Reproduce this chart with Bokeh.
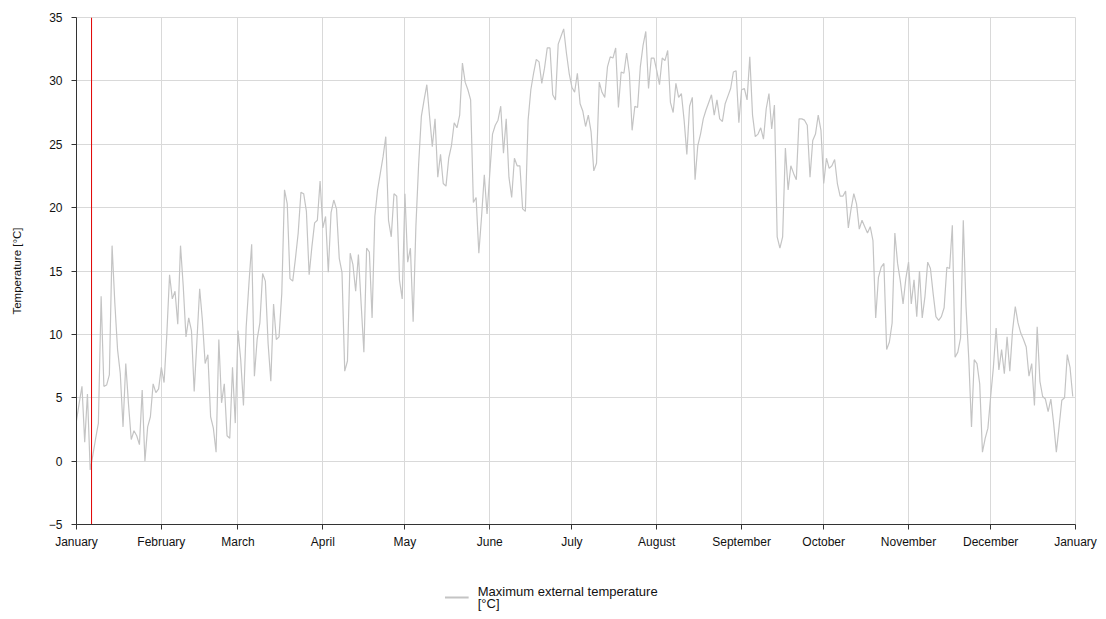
from bokeh.plotting import figure
from bokeh.layouts import column
from bokeh.models import Range1d, FixedTicker, Label
from bokeh.embed import file_html
from bokeh.resources import INLINE

# Daily maximum external temperature [°C], day 0 = 1 January
temps = [
    3.2, 4.6, 5.9, 1.5, 5.3, -0.7, 0.5, 1.8, 3.0, 13.0,
    5.9, 6.0, 6.8, 17.0, 12.5, 8.8, 6.9, 2.7, 7.7, 4.5,
    1.7, 2.4, 2.0, 1.3, 5.6, 0.0, 2.7, 3.5, 6.1, 5.4,
    5.7, 7.4, 6.2, 10.0, 14.7, 12.8, 13.4, 10.8, 17.0, 13.8,
    9.8, 11.3, 10.3, 5.5, 9.5, 13.6, 11.1, 7.7, 8.4, 3.5,
    2.6, 0.7, 9.6, 4.6, 6.1, 2.0, 1.8, 7.4, 3.0, 10.3,
    8.0, 4.4, 10.6, 14.0, 17.1, 6.7, 9.6, 10.9, 14.8, 14.2,
    9.3, 6.3, 12.4, 9.6, 9.8, 13.2, 21.4, 20.3, 14.4, 14.2,
    16.0, 18.0, 21.2, 21.1, 19.7, 14.7, 16.9, 18.8, 19.0, 22.1,
    18.4, 19.3, 14.9, 19.6, 20.6, 19.9, 16.0, 14.9, 7.1, 7.9,
    16.4, 15.5, 13.4, 16.3, 12.4, 8.6, 16.8, 16.5, 11.3, 19.3,
    21.4, 22.7, 24.0, 25.6, 19.0, 17.7, 21.1, 20.9, 14.3, 12.8,
    21.1, 15.7, 16.8, 11.0, 18.5, 23.4, 27.2, 28.5, 29.7, 27.2,
    24.8, 27.0, 22.4, 24.2, 21.9, 21.7, 23.9, 24.9, 26.7, 26.3,
    27.3, 31.4, 29.9, 29.3, 28.5, 20.4, 20.8, 16.4, 19.3, 22.6,
    19.5, 22.7, 25.8, 26.5, 26.9, 28.0, 24.3, 27.0, 22.4, 20.8,
    23.9, 23.3, 23.3, 19.9, 19.7, 26.9, 29.3, 30.6, 31.7, 31.5,
    29.8, 31.0, 32.6, 32.6, 28.9, 28.5, 32.9, 33.5, 34.1, 32.2,
    30.6, 29.5, 29.1, 30.6, 28.2, 27.6, 26.4, 27.3, 26.0, 22.9,
    23.5, 29.9, 29.1, 28.7, 31.1, 31.9, 31.8, 32.6, 27.9, 30.7,
    30.6, 32.2, 30.6, 26.1, 28.0, 27.9, 31.1, 32.8, 33.9, 29.4,
    31.8, 31.8, 30.8, 29.7, 31.8, 31.6, 32.4, 28.3, 27.5, 29.8,
    28.7, 29.0, 26.9, 24.2, 28.0, 28.7, 22.2, 24.9, 25.8, 27.0,
    27.7, 28.3, 28.9, 27.3, 28.5, 27.0, 26.8, 28.2, 28.8, 29.4,
    30.7, 30.8, 26.7, 29.3, 29.4, 28.5, 31.9, 27.3, 25.6, 25.8,
    26.3, 25.4, 27.8, 29.0, 26.2, 28.1, 17.7, 16.8, 17.7, 24.7,
    21.4, 23.3, 22.7, 22.2, 27.0, 27.0, 26.9, 26.5, 22.4, 25.3,
    25.8, 27.3, 26.1, 21.9, 23.9, 23.1, 23.3, 23.8, 21.9, 20.9,
    20.9, 21.3, 18.4, 19.9, 21.1, 20.3, 18.3, 19.0, 18.5, 18.0,
    18.5, 17.4, 11.3, 14.5, 15.3, 15.6, 8.8, 9.4, 10.9, 18.0,
    15.6, 14.2, 12.4, 14.4, 15.7, 12.4, 14.3, 11.4, 15.0, 11.3,
    13.0, 15.7, 15.2, 13.2, 11.4, 11.1, 11.4, 12.1, 15.3, 15.2,
    18.6, 8.2, 8.6, 9.7, 19.0, 12.2, 8.1, 2.7, 8.0, 7.7,
    6.1, 0.7, 1.8, 2.6, 5.1, 7.4, 10.5, 7.2, 8.8, 6.9,
    9.8, 7.1, 10.3, 12.2, 10.9, 10.1, 9.6, 9.0, 6.7, 7.7,
    4.4, 10.6, 6.3, 5.1, 4.9, 3.9, 4.9, 3.0, 0.7, 2.7,
    4.8, 5.0, 8.4, 7.4, 5.1,
]
days = list(range(len(temps)))

month_starts = [0, 31, 59, 90, 120, 151, 181, 212, 243, 273, 304, 334, 365]
month_labels = ["January", "February", "March", "April", "May", "June", "July",
                "August", "September", "October", "November", "December", "January"]
y_ticks = [-5, 0, 5, 10, 15, 20, 25, 30, 35]
marker_day = 5.5
legend_line1 = "Maximum external temperature"
legend_line2 = "[°C]"

FONT = "Liberation Sans"
LINE_COLOR = "#c4c4c4"
W = 1098
Y_MIN, Y_MAX = y_ticks[0], y_ticks[-1]

p = figure(width=W, height=560, x_range=Range1d(0, 365), y_range=Range1d(Y_MIN, Y_MAX),
           output_backend="svg", toolbar_location=None,
           min_border_left=76, min_border_right=23, min_border_top=17, min_border_bottom=36)
p.background_fill_color = "white"
p.border_fill_color = "white"
p.outline_line_color = "#d9d9d9"

r = p.line(days, temps, line_color=LINE_COLOR, line_width=1.2)

# current-day marker
p.segment(x0=[marker_day], x1=[marker_day], y0=[Y_MIN], y1=[Y_MAX],
          line_color="#e00000", line_width=1)

p.xaxis.ticker = FixedTicker(ticks=month_starts)
p.xaxis.major_label_overrides = {m: l for m, l in zip(month_starts, month_labels)}
p.yaxis.ticker = FixedTicker(ticks=y_ticks)
for ax in (p.xaxis, p.yaxis):
    ax.axis_line_color = "#333333"
    ax.major_tick_line_color = "#333333"
    ax.major_tick_out = 5
    ax.major_tick_in = 0
    ax.minor_tick_line_color = None
    ax.major_label_text_font = FONT
    ax.major_label_text_font_size = "12px"
    ax.major_label_text_color = "#111111"
p.xaxis.major_label_standoff = 5
p.yaxis.major_label_standoff = 9
p.yaxis.axis_label = "Temperature [°C]"
p.yaxis.axis_label_text_font = FONT
p.yaxis.axis_label_text_font_size = "11.5px"
p.yaxis.axis_label_text_font_style = "normal"
p.yaxis.axis_label_text_color = "#111111"
p.yaxis.axis_label_standoff = 23

p.xgrid.ticker = FixedTicker(ticks=month_starts)
p.ygrid.ticker = FixedTicker(ticks=y_ticks)
p.grid.grid_line_color = "#d9d9d9"
p.grid.grid_line_width = 1

# Legend strip below the chart (pixel coordinates of the strip)
LH = 51
lf = figure(width=W, height=LH, x_range=Range1d(0, W), y_range=Range1d(0, LH),
            output_backend="svg", toolbar_location=None, min_border=0,
            min_border_left=0, min_border_right=0, min_border_top=0, min_border_bottom=0,
            x_axis_location=None, y_axis_location=None)
lf.grid.visible = False
lf.outline_line_color = None
lf.background_fill_color = "white"
lf.border_fill_color = "white"
lf.line([405, 431], [14, 14], line_color=LINE_COLOR, line_width=2)
lf.add_layout(Label(x=441, y=20, text=legend_line1, text_font=FONT, text_font_size="13px",
                    text_color="#111111", text_baseline="middle", text_align="left"))
lf.add_layout(Label(x=441, y=8, text=legend_line2, text_font=FONT, text_font_size="13px",
                    text_color="#111111", text_baseline="middle", text_align="left"))

layout = column(p, lf, spacing=0)
open("out.html", "w").write(file_html(layout, INLINE))
